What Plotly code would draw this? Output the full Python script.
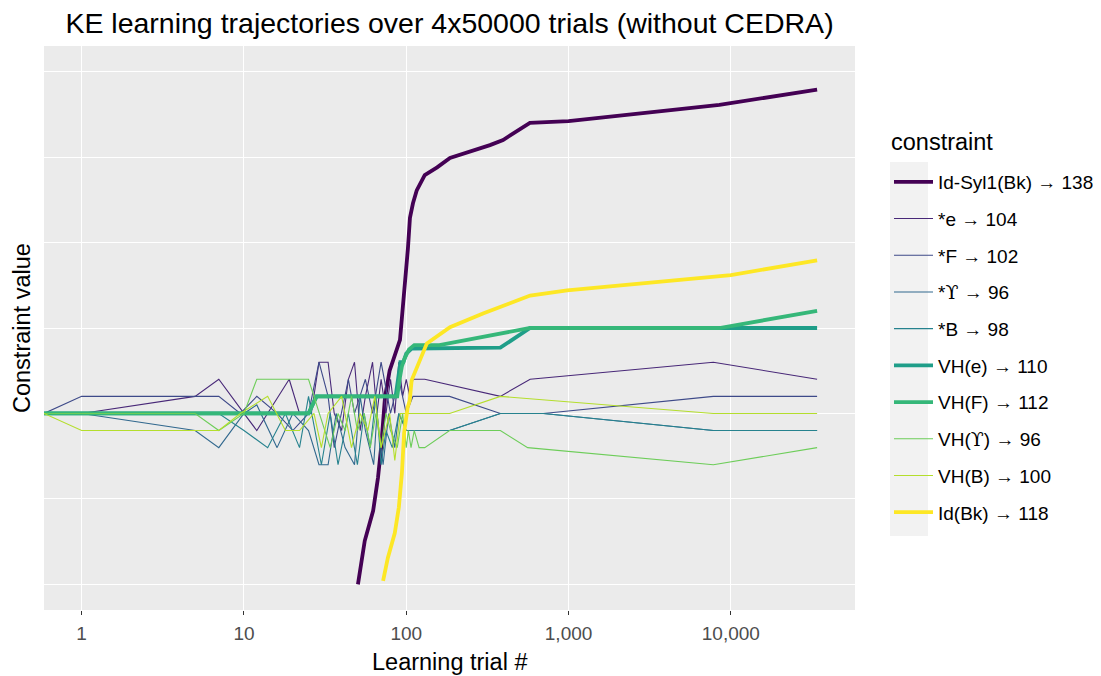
import numpy as np
import plotly.graph_objects as go

# ---------------- data ----------------
constraints = ["Id-Syl1(Bk) → 138", "*e → 104", "*F → 102", "*ϒ → 96", "*B → 98",
               "VH(e) → 110", "VH(F) → 112", "VH(ϒ) → 96", "VH(B) → 100", "Id(Bk) → 118"]
colors = ["#440154", "#482878", "#3E4A89", "#31688E", "#26828E",
          "#1F9E89", "#35B779", "#6DCD59", "#B4DE2C", "#FDE725"]
thick = [True, False, False, False, False, True, True, False, False, True]

idsyl_t = [50.4, 55.5, 62.5, 67, 70, 72, 74, 79, 91.5, 102.4, 105.4, 110, 116, 130, 155, 186, 247, 328, 395, 578, 1000, 8500, 34000]
idsyl_v = [80, 85.1, 88.6, 92.5, 96, 99, 101.9, 105, 108.6, 119.3, 122.9, 124.6, 126.1, 127.9, 128.8, 129.9, 130.6, 131.4, 132, 134, 134.2, 136.1, 137.9]

e_t = [0, 1, 5, 7, 10, 12, 19, 22, 26, 29, 33, 36, 40, 44, 48, 52, 56, 62, 66, 70, 75, 80, 85, 90, 95, 100, 105, 110, 130, 380, 580, 7800, 34000]
e_v = [100, 100, 102, 104, 100, 98, 104, 100, 100, 106, 106, 100, 98, 104, 106, 98, 102, 106, 100, 104, 100, 104, 100, 106, 102, 104, 102, 104, 104, 102, 104, 106, 104]

f_t = [0, 1, 7, 9.5, 12, 16, 20, 25, 29, 33, 36, 44, 48, 56, 62, 70, 80, 90, 100, 110, 185, 380, 700, 7800, 34000]
f_v = [100, 102, 102, 100, 102, 100, 98, 100, 106, 102, 96, 104, 100, 104, 100, 106, 100, 104, 100, 102, 102, 100, 100, 102, 102]

y_t = [0, 1, 5, 7, 10, 12, 16, 20, 25, 29, 33, 37, 42, 48, 52, 56, 63, 66, 72, 78, 85, 90, 100, 185, 380, 700, 7800, 34000]
y_v = [100, 100, 98, 96, 100, 101, 96, 100, 98, 94, 94, 100, 96, 94, 102, 98, 94, 100, 94, 100, 96, 100, 98, 98, 100, 100, 98, 98]

b_t = [0, 7, 10, 14, 18, 22, 25, 30, 34, 38, 44, 50, 55, 60, 65, 70, 75, 82, 90, 100, 185, 380, 700, 7800, 34000]
b_v = [100, 100, 98, 96, 100, 96, 102, 94, 100, 94, 100, 94, 100, 96, 102, 94, 98, 96, 100, 98, 98, 100, 100, 98, 98]

vhe_t = [0, 25, 28, 86, 89, 92, 96, 100, 108, 130, 380, 580, 34000]
vhe_v = [100, 100, 102, 102, 104, 106, 106, 107, 107.6, 107.6, 107.7, 110, 110]

vhf_t = [0, 25, 28, 88, 91, 94, 98, 104, 112, 160, 580, 8500, 34000]
vhf_v = [100, 100, 102, 102, 104, 105.5, 106.5, 107.5, 108, 108, 110, 110, 112]

vhy_t = [0, 5, 7, 10, 12, 25, 34, 38, 42, 46, 50, 55, 60, 65, 70, 75, 80, 88, 95, 100, 103, 107, 112, 120, 130, 185, 380, 560, 7800, 34000]
vhy_v = [100, 100, 98, 100, 104, 104, 96, 100, 98, 102, 98, 100, 96, 100, 96, 100, 98, 96, 100, 96, 98, 96, 98, 96, 96, 98, 98, 96, 94, 96]

vhb_t = [0, 1, 7, 9.5, 14, 18, 22, 27, 30, 33, 40, 46, 52, 58, 64, 70, 79, 85, 92, 100, 185, 380, 700, 7800, 34000]
vhb_v = [100, 98, 98, 100, 102, 98, 98, 100, 96, 100, 102, 96, 100, 98, 102, 96, 100, 94.5, 100, 100, 100, 102, 101.6, 100, 100]

idbk_t = [72, 77, 85, 90, 94, 97, 102, 105, 108, 116, 134, 186, 297, 580, 980, 10000, 34000]
idbk_v = [80.4, 83.1, 86, 89, 93, 97.7, 100.7, 101.5, 103.9, 105.4, 108.2, 110.1, 111.7, 113.8, 114.4, 116.2, 117.9]

trials = [idsyl_t, e_t, f_t, y_t, b_t, vhe_t, vhf_t, vhy_t, vhb_t, idbk_t]
values = [idsyl_v, e_v, f_v, y_v, b_v, vhe_v, vhf_v, vhy_v, vhb_v, idbk_v]

x_ticks = [1, 10, 100, 1000, 10000]
x_ticktext = ["1", "10", "100", "1,000", "10,000"]

# ---------------- figure ----------------
XLO, XHI = -0.232, 4.765
YLO, YHI = 77, 143
W, H = 1101, 676
OFF = 8  # the page body margin shifts the figure by 8px right and down
# panel in page pixels: x 44..855, y 46..610
ML, MT = 44 - OFF, 46 - OFF
MR, MB = W - (855 - OFF), H - (610 - OFF)
PW, PH = W - ML - MR, H - MT - MB


def px_x(p):  # page pixel -> paper x
    return (p - OFF - ML) / PW


def px_y(p):  # page pixel -> paper y
    return (H - MB - (p - OFF)) / PH


def legend_label(s):
    return s.replace("ϒ", "<span style='font-family:DejaVu Serif'>ϒ</span>")


fig = go.Figure()
for i, name in enumerate(constraints):
    t = np.array(trials[i], dtype=float)
    # trial 0 is -Inf on a log scale: drawn at the panel edge as ggplot does
    t = np.where(t <= 0, 10 ** XLO, t)
    fig.add_trace(go.Scatter(
        x=t, y=values[i], mode="lines", name=legend_label(name), legendgroup=name,
        line=dict(color=colors[i], width=3.8 if thick[i] else 1.1),
    ))

fig.update_layout(
    width=W, height=H,
    margin=dict(l=ML, r=MR, t=MT, b=MB, autoexpand=False),
    paper_bgcolor="white", plot_bgcolor="#EBEBEB",
    font=dict(family="Liberation Sans, Arial, sans-serif", color="black"),
    title=dict(text="KE learning trajectories over 4x50000 trials (without CEDRA)",
               x=0.5, xref="paper", xanchor="center", y=1 - (23 - OFF) / H, yanchor="middle",
               font=dict(size=28.5, color="black")),
    showlegend=True,
    legend=dict(x=px_x(889), xanchor="left", y=px_y(163), yanchor="top",
                font=dict(size=19), tracegroupgap=9, itemwidth=39,
                bgcolor="rgba(0,0,0,0)"),
    shapes=[dict(type="rect", xref="paper", yref="paper", x0=px_x(890), x1=px_x(928),
                 y0=px_y(536), y1=px_y(162), fillcolor="#F2F2F2", line=dict(width=0),
                 layer="below")],
    annotations=[
        dict(text="constraint", xref="paper", yref="paper", x=px_x(889), y=px_y(142),
             xanchor="left", yanchor="middle", showarrow=False, font=dict(size=23.5)),
        dict(text="Learning trial #", xref="paper", yref="paper", x=0.5, y=px_y(662),
             xanchor="center", yanchor="middle", showarrow=False, font=dict(size=23.5)),
        dict(text="Constraint value", xref="paper", yref="paper", x=px_x(22), y=0.5,
             xanchor="center", yanchor="middle", showarrow=False, textangle=-90,
             font=dict(size=23.5)),
    ],
)
fig.update_xaxes(type="log", range=[XLO, XHI], tickvals=x_ticks, ticktext=x_ticktext,
                 showgrid=True, gridcolor="white", gridwidth=1.3, zeroline=False,
                 ticks="outside", ticklen=4, tickcolor="#333333", tickwidth=1,
                 tickfont=dict(size=19, color="#4D4D4D"), ticklabelstandoff=2,
                 automargin=False, showline=False)
fig.update_yaxes(range=[YLO, YHI], tick0=80, dtick=10, showticklabels=False, ticks="",
                 showgrid=True, gridcolor="white", gridwidth=1.3, zeroline=False,
                 automargin=False, showline=False)

fig.write_html("out.html")
